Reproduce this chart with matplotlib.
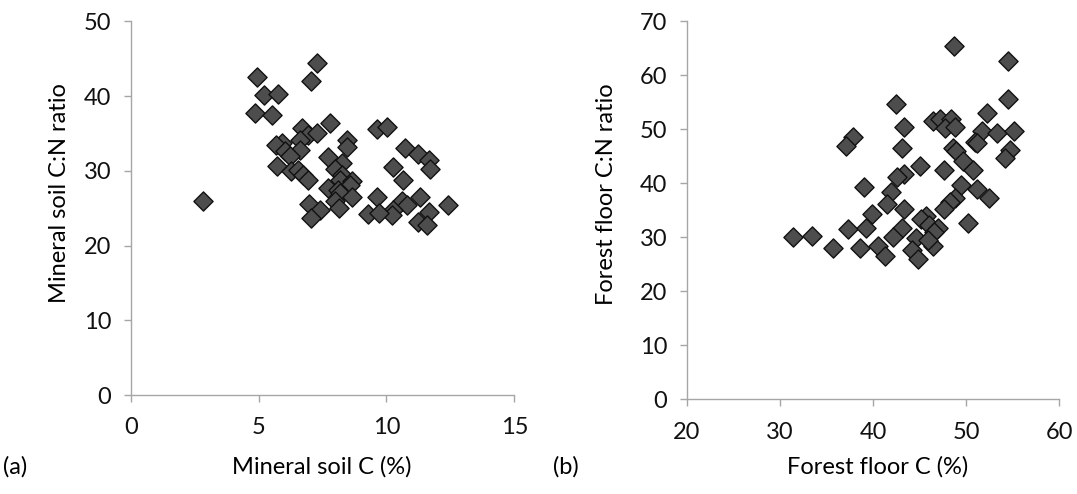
import matplotlib
matplotlib.use("Agg")
import matplotlib.pyplot as plt

# Panel (a): mineral soil
mineral_c = [2.84, 4.95, 7.27, 7.05, 5.23, 5.77, 4.86, 5.54, 7.79, 6.69,
             6.95, 7.30, 6.62, 9.62, 10.01, 8.45, 8.45, 5.90, 5.67, 6.62,
             6.03, 6.23, 10.73, 11.25, 11.68, 11.70, 7.73, 8.25, 7.99, 5.73,
             6.26, 6.55, 6.75, 6.95, 10.27, 10.66, 8.25, 8.19, 8.64, 8.58,
             7.73, 8.12, 8.19, 8.64, 7.99, 9.62, 11.31, 12.42, 10.60, 10.79,
             10.27, 10.21, 9.29, 9.72, 6.98, 7.40, 7.04, 8.16, 11.68, 11.25,
             11.58]
mineral_cn = [25.9, 42.6, 44.4, 42.0, 40.1, 40.3, 37.7, 37.4, 36.4, 35.7,
              34.8, 35.0, 34.1, 35.6, 35.9, 34.1, 33.2, 33.7, 33.4, 32.8,
              32.6, 32.0, 33.0, 32.3, 31.5, 30.3, 31.9, 31.0, 30.3, 30.6,
              30.0, 30.1, 29.5, 28.8, 30.5, 28.7, 29.5, 28.8, 28.6, 28.1,
              27.7, 27.4, 27.0, 26.5, 25.9, 26.5, 26.5, 25.4, 25.9, 25.4,
              24.7, 24.1, 24.2, 24.3, 25.6, 24.8, 23.7, 25.0, 24.5, 23.1,
              22.8]

# Panel (b): forest floor
floor_c = [48.68, 54.51, 54.51, 42.42, 52.19, 46.40, 47.18, 48.36, 47.71, 48.79,
           43.35, 51.65, 53.26, 55.12, 37.88, 37.06, 50.93, 51.12, 43.07, 48.61,
           48.86, 54.69, 54.15, 49.61, 45.03, 47.60, 50.75, 43.35, 42.57, 39.02,
           49.50, 51.18, 41.91, 52.47, 48.79, 48.25, 41.46, 47.60, 43.28, 39.85,
           45.74, 45.14, 50.21, 37.34, 39.20, 43.07, 46.03, 46.93, 31.44, 33.41,
           42.19, 44.63, 46.60, 35.66, 38.60, 40.49, 41.28, 44.20, 44.79, 46.40,
           45.93]
floor_cn = [65.4, 62.6, 55.7, 54.7, 53.1, 51.6, 51.9, 52.0, 50.2, 50.4,
            50.5, 49.6, 49.3, 49.6, 48.6, 47.0, 47.7, 47.4, 46.6, 46.6,
            46.0, 46.2, 44.6, 44.1, 43.2, 42.5, 42.5, 41.7, 41.2, 39.4,
            39.7, 38.9, 38.3, 37.3, 37.2, 36.6, 36.1, 35.2, 35.2, 34.4,
            33.9, 33.3, 32.7, 31.5, 31.7, 31.7, 32.3, 31.7, 30.1, 30.3,
            30.1, 29.9, 30.9, 28.0, 28.1, 28.4, 26.6, 27.6, 26.0, 28.3,
            29.5]

x_ticks_a = [0, 5, 10, 15]
y_ticks_a = [0, 10, 20, 30, 40, 50]
x_ticks_b = [20, 30, 40, 50, 60]
y_ticks_b = [0, 10, 20, 30, 40, 50, 60, 70]

plt.rcParams['font.family'] = ['Lato', 'DejaVu Sans']

W, H = 1077, 494
fig = plt.figure(figsize=(W / 100, H / 100), dpi=100)

axis_gray = '#a6a6a6'
fs = 17


def style(ax, xt, yt):
    for s in ['top', 'right']:
        ax.spines[s].set_visible(False)
    for s in ['left', 'bottom']:
        ax.spines[s].set_color(axis_gray)
        ax.spines[s].set_linewidth(1.0)
    ax.set_xticks(xt)
    ax.set_yticks(yt)
    ax.set_xlim(xt[0], xt[-1])
    ax.set_ylim(yt[0], yt[-1])
    ax.tick_params(axis='both', direction='out', length=5, width=1.0,
                   color=axis_gray, labelsize=fs, labelcolor='#111111')
    ax.tick_params(axis='y', pad=9)
    ax.tick_params(axis='x', pad=11)
    for sp in ax.spines.values():
        sp.set_clip_on(False)


ax1 = fig.add_axes([130.7 / W, 1 - 395 / H, (514.3 - 130.7) / W, (395 - 21.3) / H])
ax1.scatter(mineral_c, mineral_cn, marker='D', s=95, facecolor='#4d4d4d',
            edgecolor='#111111', linewidths=1.0, clip_on=False, zorder=3)
style(ax1, x_ticks_a, y_ticks_a)

ax2 = fig.add_axes([686.7 / W, 1 - 399.3 / H, (1059.3 - 686.7) / W, (399.3 - 21.3) / H])
ax2.scatter(floor_c, floor_cn, marker='D', s=95, facecolor='#4d4d4d',
            edgecolor='#111111', linewidths=1.0, clip_on=False, zorder=3)
style(ax2, x_ticks_b, y_ticks_b)

# axis labels
fig.text(322 / W, 1 - 467 / H, 'Mineral soil C (%)', ha='center', va='center', fontsize=fs)
fig.text(59 / W, 1 - 193 / H, 'Mineral soil C:N ratio', ha='center', va='center',
         rotation=90, fontsize=fs)
fig.text(878 / W, 1 - 467 / H, 'Forest floor C (%)', ha='center', va='center', fontsize=fs)
fig.text(606 / W, 1 - 194 / H, 'Forest floor C:N ratio', ha='center', va='center',
         rotation=90, fontsize=fs)

# panel letters
fig.text(3 / W, 1 - 467 / H, '(a)', ha='left', va='center', fontsize=fs)
fig.text(553 / W, 1 - 467 / H, '(b)', ha='left', va='center', fontsize=fs)

fig.savefig('out.png', dpi=100, facecolor='white')
